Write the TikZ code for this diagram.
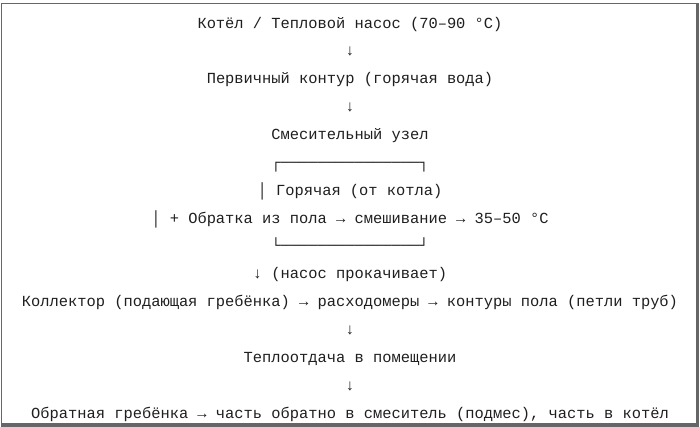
\documentclass[tikz,border=0pt]{standalone}
\usepackage{fontspec}
\setmainfont{Liberation Mono}
\begin{document}
\begin{tikzpicture}[x=1pt,y=-1pt,
  txt/.style={anchor=base, inner sep=0pt, text=black!88, font=\fontsize{15.4}{18}\selectfont},
  frame/.style={draw=black!60, line width=1.2pt}]
\useasboundingbox (0,0) rectangle (700,426);
\fill[white] (0,0) rectangle (700,426);
\draw[frame] (1.6,3.6) rectangle (696.4,423.4);
\draw[black!60, line width=2.4pt] (697.6,3) -- (697.6,425.5) -- (1,425.5);
\node[txt] (l1) at (350,28.0) {Котёл / Тепловой насос (70–90 °C)};
\node[txt] (l2) at (350,55.9) {↓};
\node[txt] (l3) at (350,83.7) {Первичный контур (горячая вода)};
\node[txt] (l4) at (350,111.6) {↓};
\node[txt] (l5) at (350,139.4) {Смесительный узел};
\node[txt] (l6) at (350,167.3) {┌───────────────┐};
\node[txt] (l7) at (350,195.2) {│ Горячая (от котла)};
\node[txt] (l8) at (350,223.0) {│ + Обратка из пола → смешивание → 35–50 °C};
\node[txt] (l9) at (350,250.9) {└───────────────┘};
\node[txt] (l10) at (350,278.7) {↓ (насос прокачивает)};
\node[txt] (l11) at (350,306.6) {Коллектор (подающая гребёнка) → расходомеры → контуры пола (петли труб)};
\node[txt] (l12) at (350,334.5) {↓};
\node[txt] (l13) at (350,362.3) {Теплоотдача в помещении};
\node[txt] (l14) at (350,390.2) {↓};
\node[txt] (l15) at (350,418.0) {Обратная гребёнка → часть обратно в смеситель (подмес), часть в котёл};
\end{tikzpicture}
\end{document}
